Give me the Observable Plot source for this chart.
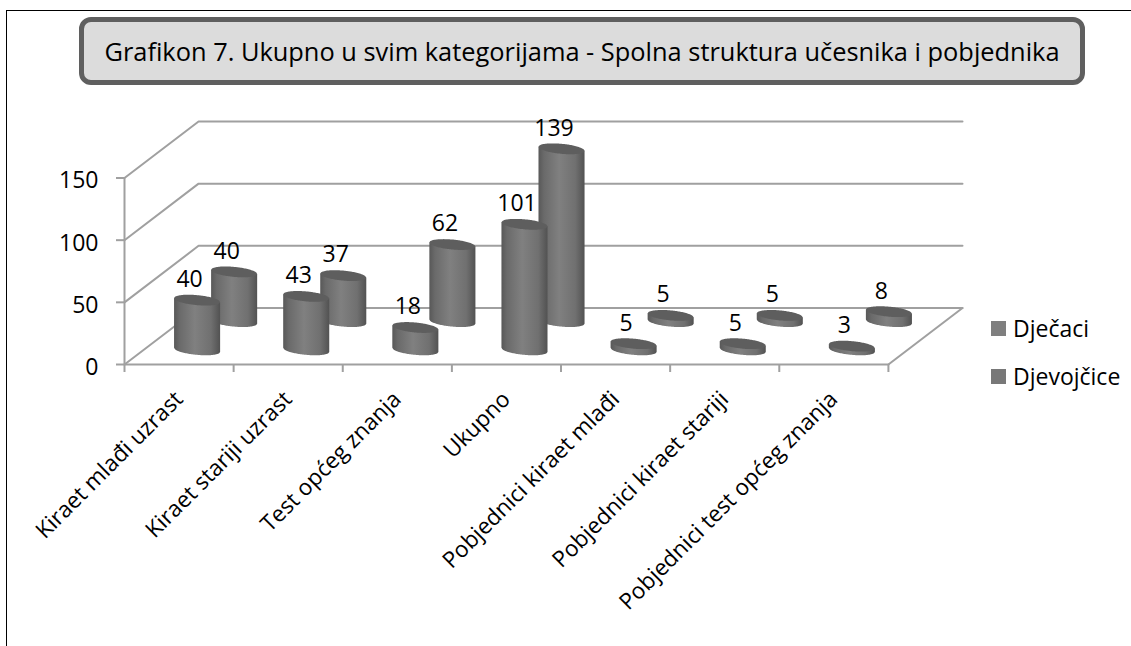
<!DOCTYPE html>
<html><head><meta charset="utf-8">
<script src="https://cdn.jsdelivr.net/npm/d3@7"></script>
<script src="https://cdn.jsdelivr.net/npm/@observablehq/plot@0.6"></script>
<style>
html,body{margin:0;padding:0;background:#fff}
#page{position:relative;width:1131px;height:646px;overflow:hidden;font-family:"Open Sans",sans-serif;color:#000}
#frame{position:absolute;left:6px;top:10px;width:1125px;height:636px;border-left:1.5px solid #000;border-top:1.5px solid #000;box-sizing:border-box}
#title{position:absolute;left:79px;top:17px;width:1006px;height:68px;box-sizing:border-box;border:5px solid #5f5f5f;border-radius:12px;background:#dcdcdc;display:flex;align-items:center;justify-content:center;font-size:25.4px;white-space:nowrap}
#chart{position:absolute;left:0;top:88px}
#chart svg{display:block;overflow:visible}
.lg{position:absolute;left:991px;font-size:23px;line-height:30px;white-space:nowrap}
.lg i{position:absolute;left:0;top:8px;width:15px;height:15px;background:#7f7f7f}
.lg span{margin-left:22px}
</style></head><body>
<div id="page"><div id="frame"></div>
<div id="title">Grafikon 7. Ukupno u svim kategorijama - Spolna struktura učesnika i pobjednika</div>
<div id="chart"></div>
<div class="lg" style="top:313px"><i style="background:#7f7f7f"></i><span>Dječaci</span></div>
<div class="lg" style="top:361px"><i style="background:#787878"></i><span>Djevojčice</span></div>
</div>
<script>
const categories = ["Kiraet mlađi uzrast","Kiraet stariji uzrast","Test općeg znanja","Ukupno","Pobjednici kiraet mlađi","Pobjednici kiraet stariji","Pobjednici test općeg znanja"];
const boys  = [40,43,18,101,5,5,3];
const girls = [40,37,62,139,5,5,8];
const yTicks = [0,50,100,150];

const pxX = 109, pxY = 1.243;            // px per category / per value
const depthX = 74/pxX, depthY = 56.5/pxY; // oblique offset of the chart's back plane
const rx = 23/pxX, ry = 5/pxY;
const lines = [];
yTicks.forEach(v=>{
  lines.push({id:"g"+v,x:0,y:v},{id:"g"+v,x:depthX,y:v+depthY},{id:"g"+v,x:7+depthX,y:v+depthY});
});
lines.push({id:"r",x:7,y:0},{id:"r",x:7+depthX,y:depthY});
lines.push({id:"f",x:0,y:0},{id:"f",x:7,y:0});
lines.push({id:"a",x:0,y:0},{id:"a",x:0,y:150});

// sample a sheared ellipse: cylinder in oblique view
const N = 48;
function cyl(vals, depth, name){
  const side=[], top=[], labels=[];
  vals.forEach((v,i)=>{
    const cx=i+0.5+depth*depthX, b=depth*depthY;
    for(let k=0;k<=N;k++){
      const u=-1+2*k/N, h=Math.sqrt(Math.max(0,1-u*u)), x=cx+u*rx, s=-u*0.09*rx*pxX/pxY;
      side.push({id:name+i,x,y1:b+v+s,y2:b+s-h*ry});
      top.push({id:name+i,x,y1:b+v+s+h*ry,y2:b+v+s-h*ry});
    }
    labels.push({x:cx,y:b+v,t:String(v)});
  });
  return {side,top,labels};
}
const back=cyl(girls,0.75,"b"), front=cyl(boys,0.25,"f");
const curve="linear";
const cylMarks=c=>[
  Plot.areaY(c.side,{x:"x",y1:"y1",y2:"y2",z:"id",fill:"url(#cyl)",curve}),
  Plot.areaY(c.top,{x:"x",y1:"y1",y2:"y2",z:"id",fill:"#5e5e5e",curve}),
  Plot.text(c.labels,{x:"x",y:"y",text:"t",dx:-8,dy:-21,fontSize:23,fill:"#000"})
];
const defs=()=>{
  const s=d3.create("svg:defs");
  const g=s.append("linearGradient").attr("id","cyl").attr("x1",0).attr("x2",1).attr("y1",0).attr("y2",0);
  [[0,"#585858"],[.12,"#6a6a6a"],[.45,"#808080"],[.8,"#707070"],[1,"#525252"]].forEach(([o,c])=>g.append("stop").attr("offset",o).attr("stop-color",c));
  return s.node();
};
const plot=Plot.plot({
  width:1131,height:558,marginLeft:124,marginRight:169,marginTop:33,marginBottom:282,
  style:{fontFamily:'"Open Sans",sans-serif',background:"transparent",overflow:"visible"},
  x:{domain:[0,7+depthX],axis:null},
  y:{domain:[0,150+depthY],axis:null},
  marks:[
    defs,
    Plot.line(lines,{x:"x",y:"y",z:"id",stroke:"#a0a0a0",strokeWidth:2}),
    Plot.axisY({ticks:yTicks,tickSize:8,tickFormat:()=>"",label:null,stroke:"#a0a0a0",strokeWidth:2,strokeOpacity:1}),
    Plot.axisY({ticks:yTicks,tickSize:0,tickPadding:26,dy:3,fontSize:23,label:null,color:"#000"}),
    Plot.axisX({ticks:d3.range(8),tickSize:8,tickFormat:()=>"",label:null,stroke:"#a0a0a0",strokeWidth:2,strokeOpacity:1}),
    Plot.axisX({ticks:d3.range(7).map(i=>i+.5),tickSize:0,tickPadding:31,tickRotate:-45,tickFormat:d=>categories[d-.5],fontSize:22.5,label:null,lineWidth:100,textOverflow:null,color:"#000"}),
    ...cylMarks(back),
    ...cylMarks(front)
  ]
});
document.getElementById("chart").append(plot);
</script></body></html>
